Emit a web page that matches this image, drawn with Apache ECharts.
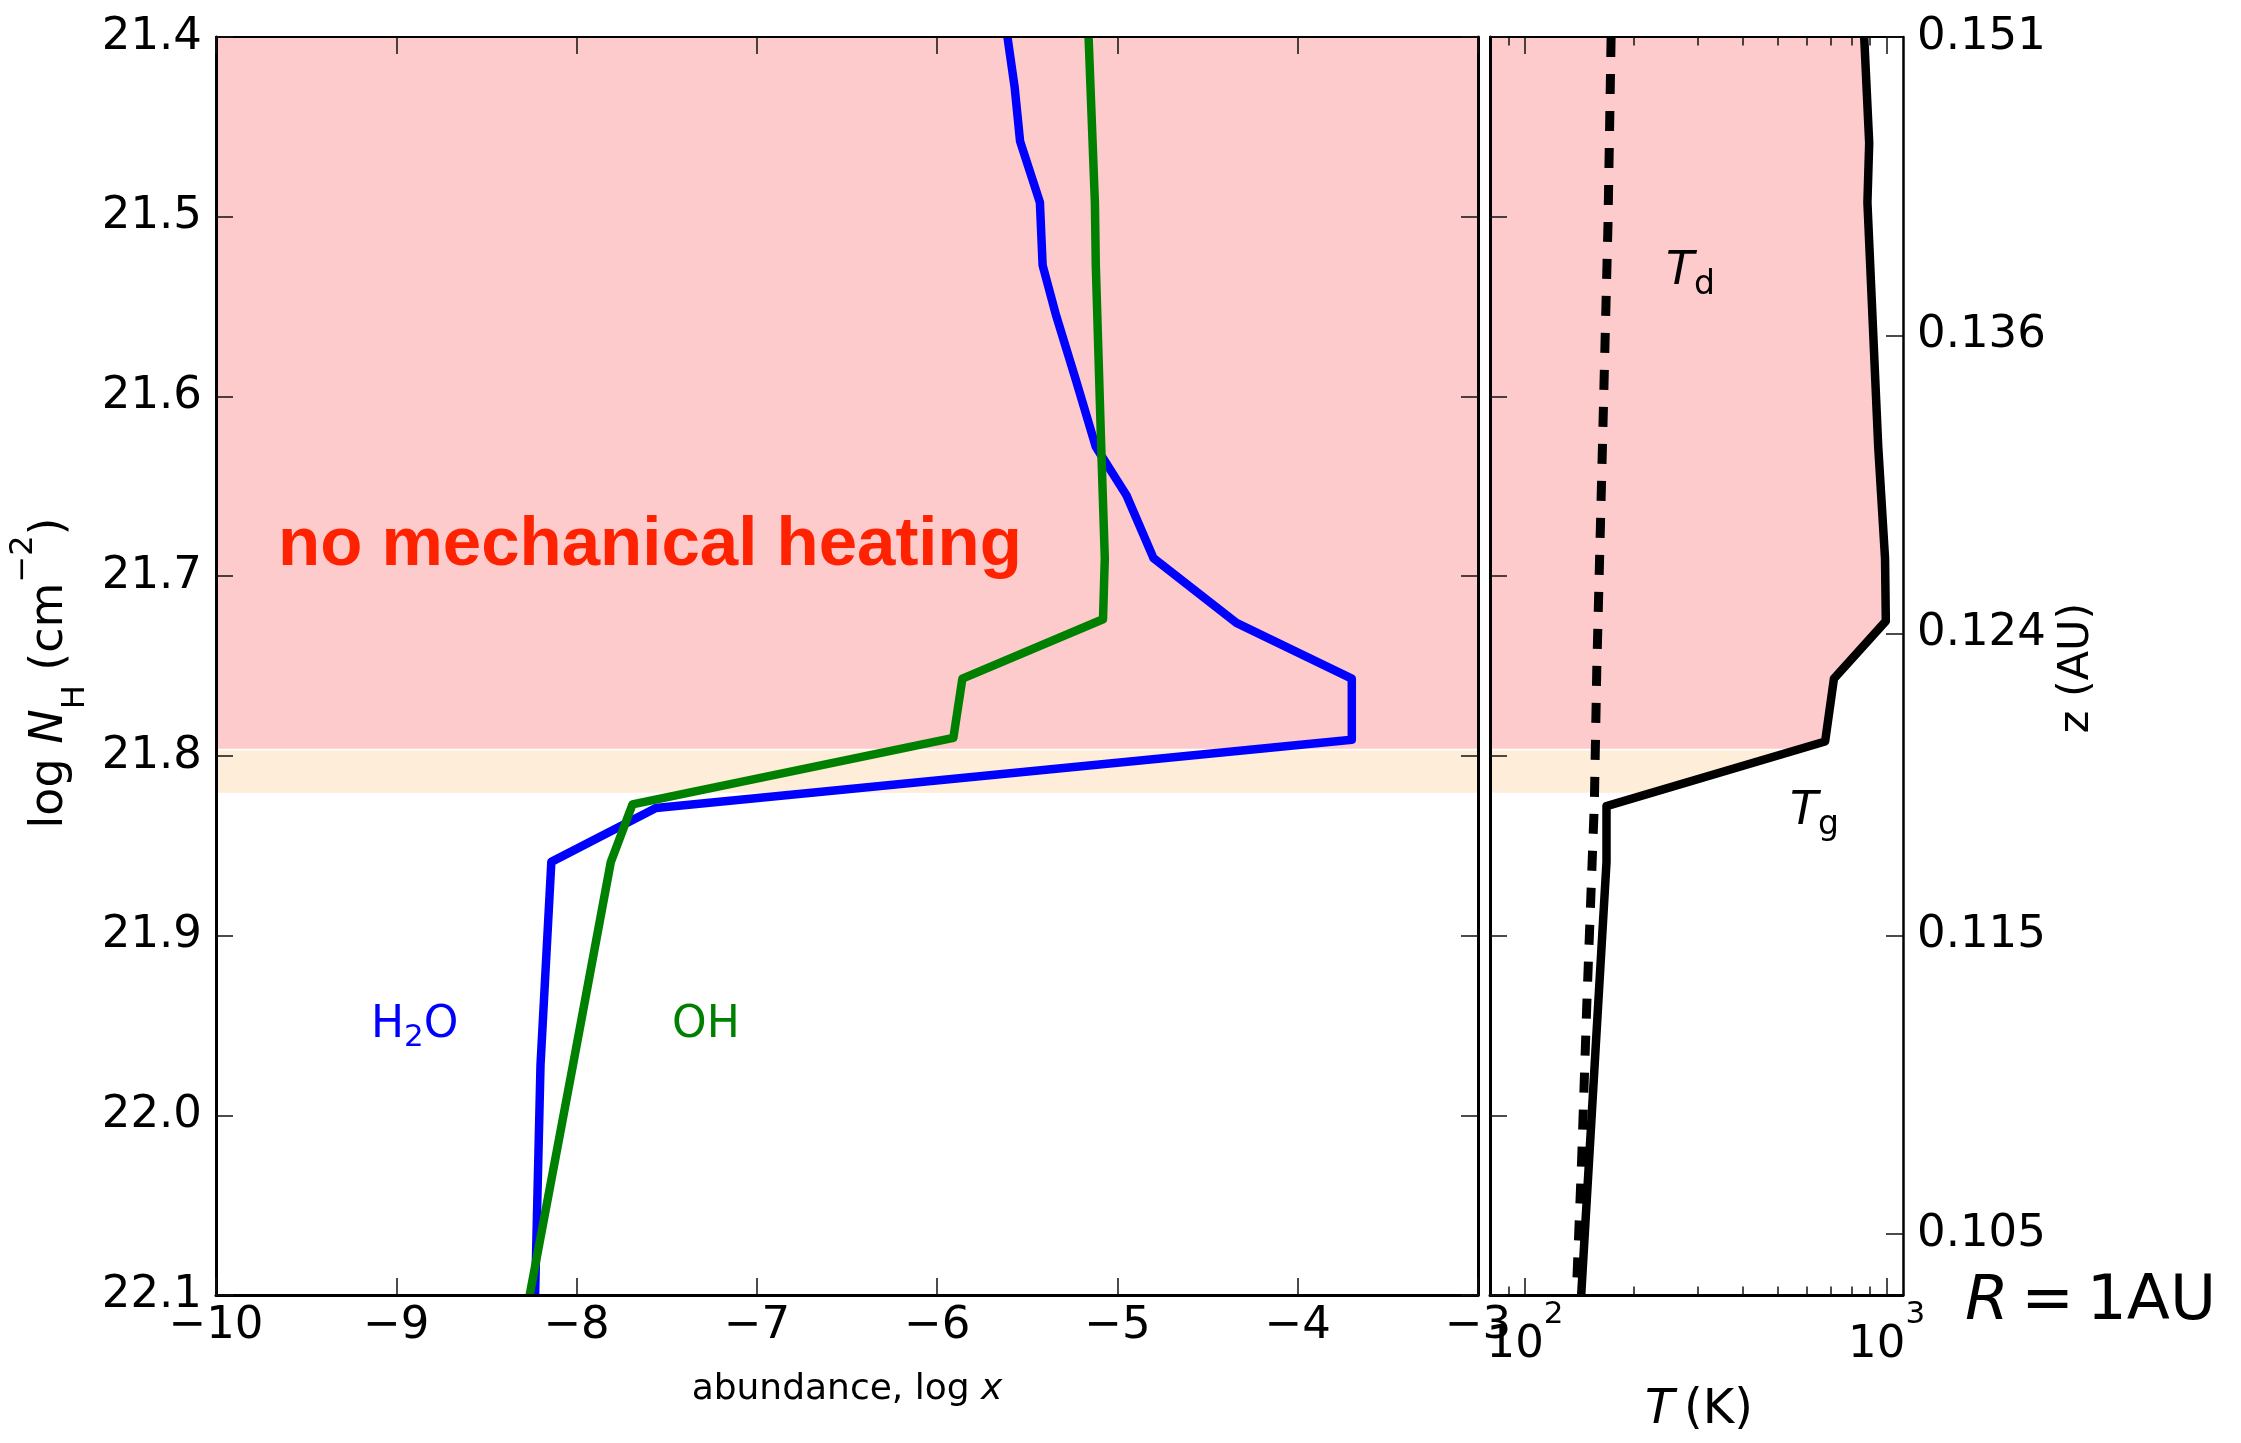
<!DOCTYPE html>
<html>
<head>
<meta charset="utf-8">
<script src="https://cdn.jsdelivr.net/npm/echarts@6/dist/echarts.min.js"></script>
<style>
  html, body { margin: 0; padding: 0; background: #ffffff; }
  #chart { width: 2241px; height: 1443px; }
</style>
</head>
<body>
<div id="chart"></div>
<script>
// ---- Data -------------------------------------------------------------
// Vertical profiles against column density log N_H (cm^-2), R = 1 AU.

// H2O abundance (log x)
const h2oNH   = [21.400, 21.428, 21.458, 21.492, 21.527, 21.555, 21.591, 21.628, 21.655, 21.690, 21.726, 21.757, 21.791, 21.829, 21.859, 21.972, 22.100];
const h2oLogX = [-5.61, -5.57, -5.54, -5.43, -5.415, -5.34, -5.23, -5.12, -4.95, -4.80, -4.34, -3.70, -3.70, -7.56, -8.14, -8.20, -8.23];

// OH abundance (log x)
const ohNH    = [21.400, 21.492, 21.527, 21.628, 21.690, 21.724, 21.757, 21.790, 21.827, 21.859, 21.972, 22.100];
const ohLogX  = [-5.16, -5.125, -5.12, -5.09, -5.07, -5.08, -5.86, -5.91, -7.69, -7.81, -8.02, -8.26];

// Gas temperature T_g (K)
const tgNH    = [21.400, 21.459, 21.492, 21.628, 21.690, 21.725, 21.757, 21.792, 21.828, 21.859, 22.100];
const tgT     = [867, 895, 885, 948, 990, 995, 715, 676, 168, 168, 143];

// Dust temperature T_d (K)
const tdNH    = [21.400, 21.504, 21.628, 21.752, 21.826, 21.938, 22.023, 22.100];
const tdT     = [173, 169.6, 163.7, 157.9, 155.5, 148.2, 143.5, 138.6];

// Shaded layers (log N_H bounds)
const heatedLayer     = [21.400, 21.796];
const transitionLayer = [21.797, 21.8205];

// Height above midplane z (AU) shown on the right axis, with the log N_H where each sits
const zTickLabels = ['0.151', '0.136', '0.124', '0.115', '0.105'];
const zTickNH     = [21.400, 21.566, 21.732, 21.900, 22.066];

// Temperature axis ticks (K)
const tMajorTicks = [100, 1000];
const tMinorTicks = [90, 200, 300, 400, 500, 600, 700, 800, 900];

// ---- Styling ----------------------------------------------------------
const FONT = 'DejaVu Sans';
const LAYER_FILLS = ['#fdcbcb', '#feedd8'];
const NH_MIN = 21.4, NH_MAX = 22.1;
const LX_MIN = -10, LX_MAX = -3;
const T_MIN = 80, T_MAX = 1110;
const LINE_W = 8.5;

const zip = (xs, ys) => xs.map((x, i) => [x, ys[i]]);
const minus = s => String(s).replace('-', '\u2212');
const tickLine = { color: '#111', width: 1.5 };

// Shaded layers: full width on the abundance panel, bounded by T_g on the temperature panel.
function layerRenderer(boundary, xRef) {
  return function (params, api) {
    const cs = params.coordSys;
    const y0 = api.coord([xRef, api.value(0)])[1];
    const y1 = api.coord([xRef, api.value(1)])[1];
    const left = cs.x;
    let pts;
    if (!boundary) {
      const right = cs.x + cs.width;
      pts = [[left, y0], [right, y0], [right, y1], [left, y1]];
    } else {
      const line = boundary.map(p => api.coord(p));
      const xAt = y => {
        for (let i = 0; i < line.length - 1; i++) {
          const a = line[i], b = line[i + 1];
          if ((y >= a[1] && y <= b[1]) || (y <= a[1] && y >= b[1])) {
            const t = b[1] === a[1] ? 0 : (y - a[1]) / (b[1] - a[1]);
            return a[0] + t * (b[0] - a[0]);
          }
        }
        return line[line.length - 1][0];
      };
      pts = [[left, y0], [xAt(y0), y0]];
      line.forEach(p => { if (p[1] > y0 && p[1] < y1) pts.push(p); });
      pts.push([xAt(y1), y1], [left, y1]);
    }
    return {
      type: 'polygon',
      shape: { points: pts },
      style: { fill: LAYER_FILLS[params.dataIndex], stroke: null },
      silent: true
    };
  };
}

function nhAxis(gridIndex, position, showLabels, lineWidth) {
  return {
    gridIndex, type: 'value', position, inverse: true,
    min: NH_MIN, max: NH_MAX, interval: 0.1, z: 10,
    axisLine: { show: true, onZero: false, lineStyle: { color: '#000', width: lineWidth } },
    axisTick: { show: true, inside: true, length: 17, lineStyle: tickLine },
    axisLabel: {
      show: showLabels, margin: 14, fontFamily: FONT, fontSize: 45, color: '#000',
      formatter: v => v.toFixed(1)
    },
    splitLine: { show: false }
  };
}

function abundanceAxis(position, showLabels, lineWidth) {
  return {
    gridIndex: 0, type: 'value', position,
    min: LX_MIN, max: LX_MAX, interval: 1, z: 10,
    axisLine: { show: true, onZero: false, lineStyle: { color: '#000', width: lineWidth } },
    axisTick: { show: true, inside: true, length: 17, lineStyle: tickLine },
    axisLabel: {
      show: showLabels, margin: 9, fontFamily: FONT, fontSize: 45, color: '#000',
      formatter: v => minus(v)
    },
    splitLine: { show: false }
  };
}

function tempAxis(position, ticks, tickLen, showLine, showLabels, lineWidth) {
  return {
    gridIndex: 1, type: 'log', logBase: 10, position,
    min: T_MIN, max: T_MAX, z: 10,
    axisLine: { show: showLine, onZero: false, lineStyle: { color: '#000', width: lineWidth } },
    axisTick: { show: true, inside: true, length: tickLen, lineStyle: tickLine, customValues: ticks },
    minorTick: { show: false },
    axisLabel: {
      show: showLabels, margin: 4, customValues: tMajorTicks,
      formatter: v => '{b|10}{s|' + Math.round(Math.log10(v)) + '}',
      rich: {
        b: { fontFamily: FONT, fontSize: 45, lineHeight: 92, color: '#000' },
        s: { fontFamily: FONT, fontSize: 31, lineHeight: 24, verticalAlign: 'top', color: '#000' }
      }
    },
    splitLine: { show: false }
  };
}

const chart = echarts.init(document.getElementById('chart'), null, { renderer: 'canvas' });

const sub = (size, lh, extra) => Object.assign({ fontFamily: FONT, fontSize: size, lineHeight: lh }, extra || {});

chart.setOption({
  animation: false,
  backgroundColor: '#ffffff',
  grid: [
    { left: 216, top: 37, width: 1262, height: 1258 },
    { left: 1490, top: 37, width: 413, height: 1258 }
  ],
  xAxis: [
    abundanceAxis('bottom', true, 3),
    abundanceAxis('top', false, 2),
    tempAxis('bottom', tMajorTicks, 17, true, true, 3),
    tempAxis('bottom', tMinorTicks, 8.5, false, false, 3),
    tempAxis('top', tMajorTicks, 17, true, false, 2),
    tempAxis('top', tMinorTicks, 8.5, false, false, 2)
  ],
  yAxis: [
    nhAxis(0, 'left', true, 3),
    nhAxis(0, 'right', false, 3),
    nhAxis(1, 'left', false, 3),
    {
      gridIndex: 1, type: 'value', position: 'right', inverse: true,
      min: NH_MIN, max: NH_MAX, z: 10,
      axisLine: { show: true, onZero: false, lineStyle: { color: '#000', width: 2.5 } },
      axisTick: { show: true, inside: true, length: 17, lineStyle: tickLine, customValues: zTickNH },
      axisLabel: {
        show: true, margin: 14, fontFamily: FONT, fontSize: 45, color: '#000',
        customValues: zTickNH,
        formatter: v => {
          let best = 0;
          zTickNH.forEach((p, i) => { if (Math.abs(p - v) < Math.abs(zTickNH[best] - v)) best = i; });
          return zTickLabels[best];
        }
      },
      splitLine: { show: false }
    }
  ],
  series: [
    {
      name: 'layers-abundance', type: 'custom', xAxisIndex: 0, yAxisIndex: 0, z: 1, silent: true,
      data: [heatedLayer, transitionLayer],
      renderItem: layerRenderer(null, LX_MIN)
    },
    {
      name: 'layers-temperature', type: 'custom', xAxisIndex: 2, yAxisIndex: 2, z: 1, silent: true,
      data: [heatedLayer, transitionLayer],
      renderItem: layerRenderer(zip(tgT, tgNH), 100)
    },
    {
      name: 'H2O', type: 'line', xAxisIndex: 0, yAxisIndex: 0, z: 3,
      data: zip(h2oLogX, h2oNH), showSymbol: false, symbol: 'none', silent: true,
      lineStyle: { color: '#0000ff', width: LINE_W, join: 'round' }
    },
    {
      name: 'OH', type: 'line', xAxisIndex: 0, yAxisIndex: 0, z: 4,
      data: zip(ohLogX, ohNH), showSymbol: false, symbol: 'none', silent: true,
      lineStyle: { color: '#008000', width: LINE_W, join: 'round' }
    },
    {
      name: 'Tg', type: 'line', xAxisIndex: 2, yAxisIndex: 2, z: 3,
      data: zip(tgT, tgNH), showSymbol: false, symbol: 'none', silent: true,
      lineStyle: { color: '#000', width: LINE_W, join: 'round' }
    },
    {
      name: 'Td', type: 'line', xAxisIndex: 2, yAxisIndex: 2, z: 4,
      data: zip(tdT, tdNH), showSymbol: false, symbol: 'none', silent: true,
      lineStyle: { color: '#000', width: 9, type: [20, 17], cap: 'butt' }
    }
  ],
  graphic: [
    {
      type: 'text', x: 278, y: 546, z: 100, silent: true,
      style: {
        text: 'no mechanical heating', fontFamily: 'Liberation Sans', fontWeight: 'bold',
        fontSize: 69, fill: '#ff2200', align: 'left', verticalAlign: 'middle'
      }
    },
    {
      type: 'text', x: 371, y: 1026, z: 100, silent: true,
      style: {
        text: '{m|H}{s|2}{m|O}', fill: '#0000ff', align: 'left', verticalAlign: 'middle',
        rich: { m: sub(44, 54), s: sub(31, 27, { verticalAlign: 'bottom' }) }
      }
    },
    {
      type: 'text', x: 672, y: 1026, z: 100, silent: true,
      style: {
        text: 'OH', fill: '#008000', fontFamily: FONT, fontSize: 44,
        align: 'left', verticalAlign: 'middle'
      }
    },
    {
      type: 'text', x: 1666, y: 272, z: 100, silent: true,
      style: {
        text: '{t|T}{s|d}', fill: '#000', align: 'left', verticalAlign: 'middle',
        rich: { t: sub(46, 60, { fontStyle: 'italic' }), s: sub(33, 36, { verticalAlign: 'bottom' }) }
      }
    },
    {
      type: 'text', x: 1790, y: 812, z: 100, silent: true,
      style: {
        text: '{t|T}{s|g}', fill: '#000', align: 'left', verticalAlign: 'middle',
        rich: { t: sub(46, 60, { fontStyle: 'italic' }), s: sub(33, 36, { verticalAlign: 'bottom' }) }
      }
    },
    {
      type: 'text', x: 1965, y: 1303, z: 100, silent: true,
      style: {
        text: '{i|R}{n|\u2009=\u20091AU}', fill: '#000', align: 'left', verticalAlign: 'middle',
        rich: { i: sub(63, 70, { fontStyle: 'italic' }), n: sub(63, 70) }
      }
    },
    {
      type: 'text', x: 1699, y: 1411, z: 100, silent: true,
      style: {
        text: '{i|T}{n|\u2009(K)}', fill: '#000', align: 'center', verticalAlign: 'middle',
        rich: { i: sub(48, 56, { fontStyle: 'italic' }), n: sub(48, 56) }
      }
    },
    {
      type: 'text', x: 2077, y: 668, z: 100, silent: true, rotation: Math.PI / 2,
      style: {
        text: 'z (AU)', fill: '#000', fontFamily: FONT, fontSize: 43,
        align: 'center', verticalAlign: 'middle'
      }
    },
    {
      type: 'text', x: 847, y: 1390, z: 100, silent: true,
      style: {
        text: '{n|abundance, log }{i|x}', fill: '#000', align: 'center', verticalAlign: 'middle',
        rich: { n: sub(36, 42), i: sub(36, 42, { fontStyle: 'italic' }) }
      }
    },
    {
      type: 'text', x: 50, y: 673, z: 100, silent: true, rotation: Math.PI / 2,
      style: {
        text: '{n|log }{i|N}{b|H}{n| (cm}{p|\u22122}{n|)}', fill: '#000',
        align: 'center', verticalAlign: 'middle',
        rich: {
          n: sub(46, 84),
          i: sub(46, 84, { fontStyle: 'italic' }),
          b: sub(32, 50, { verticalAlign: 'bottom' }),
          p: sub(32, 32, { verticalAlign: 'top' })
        }
      }
    }
  ]
});
</script>
</body>
</html>
